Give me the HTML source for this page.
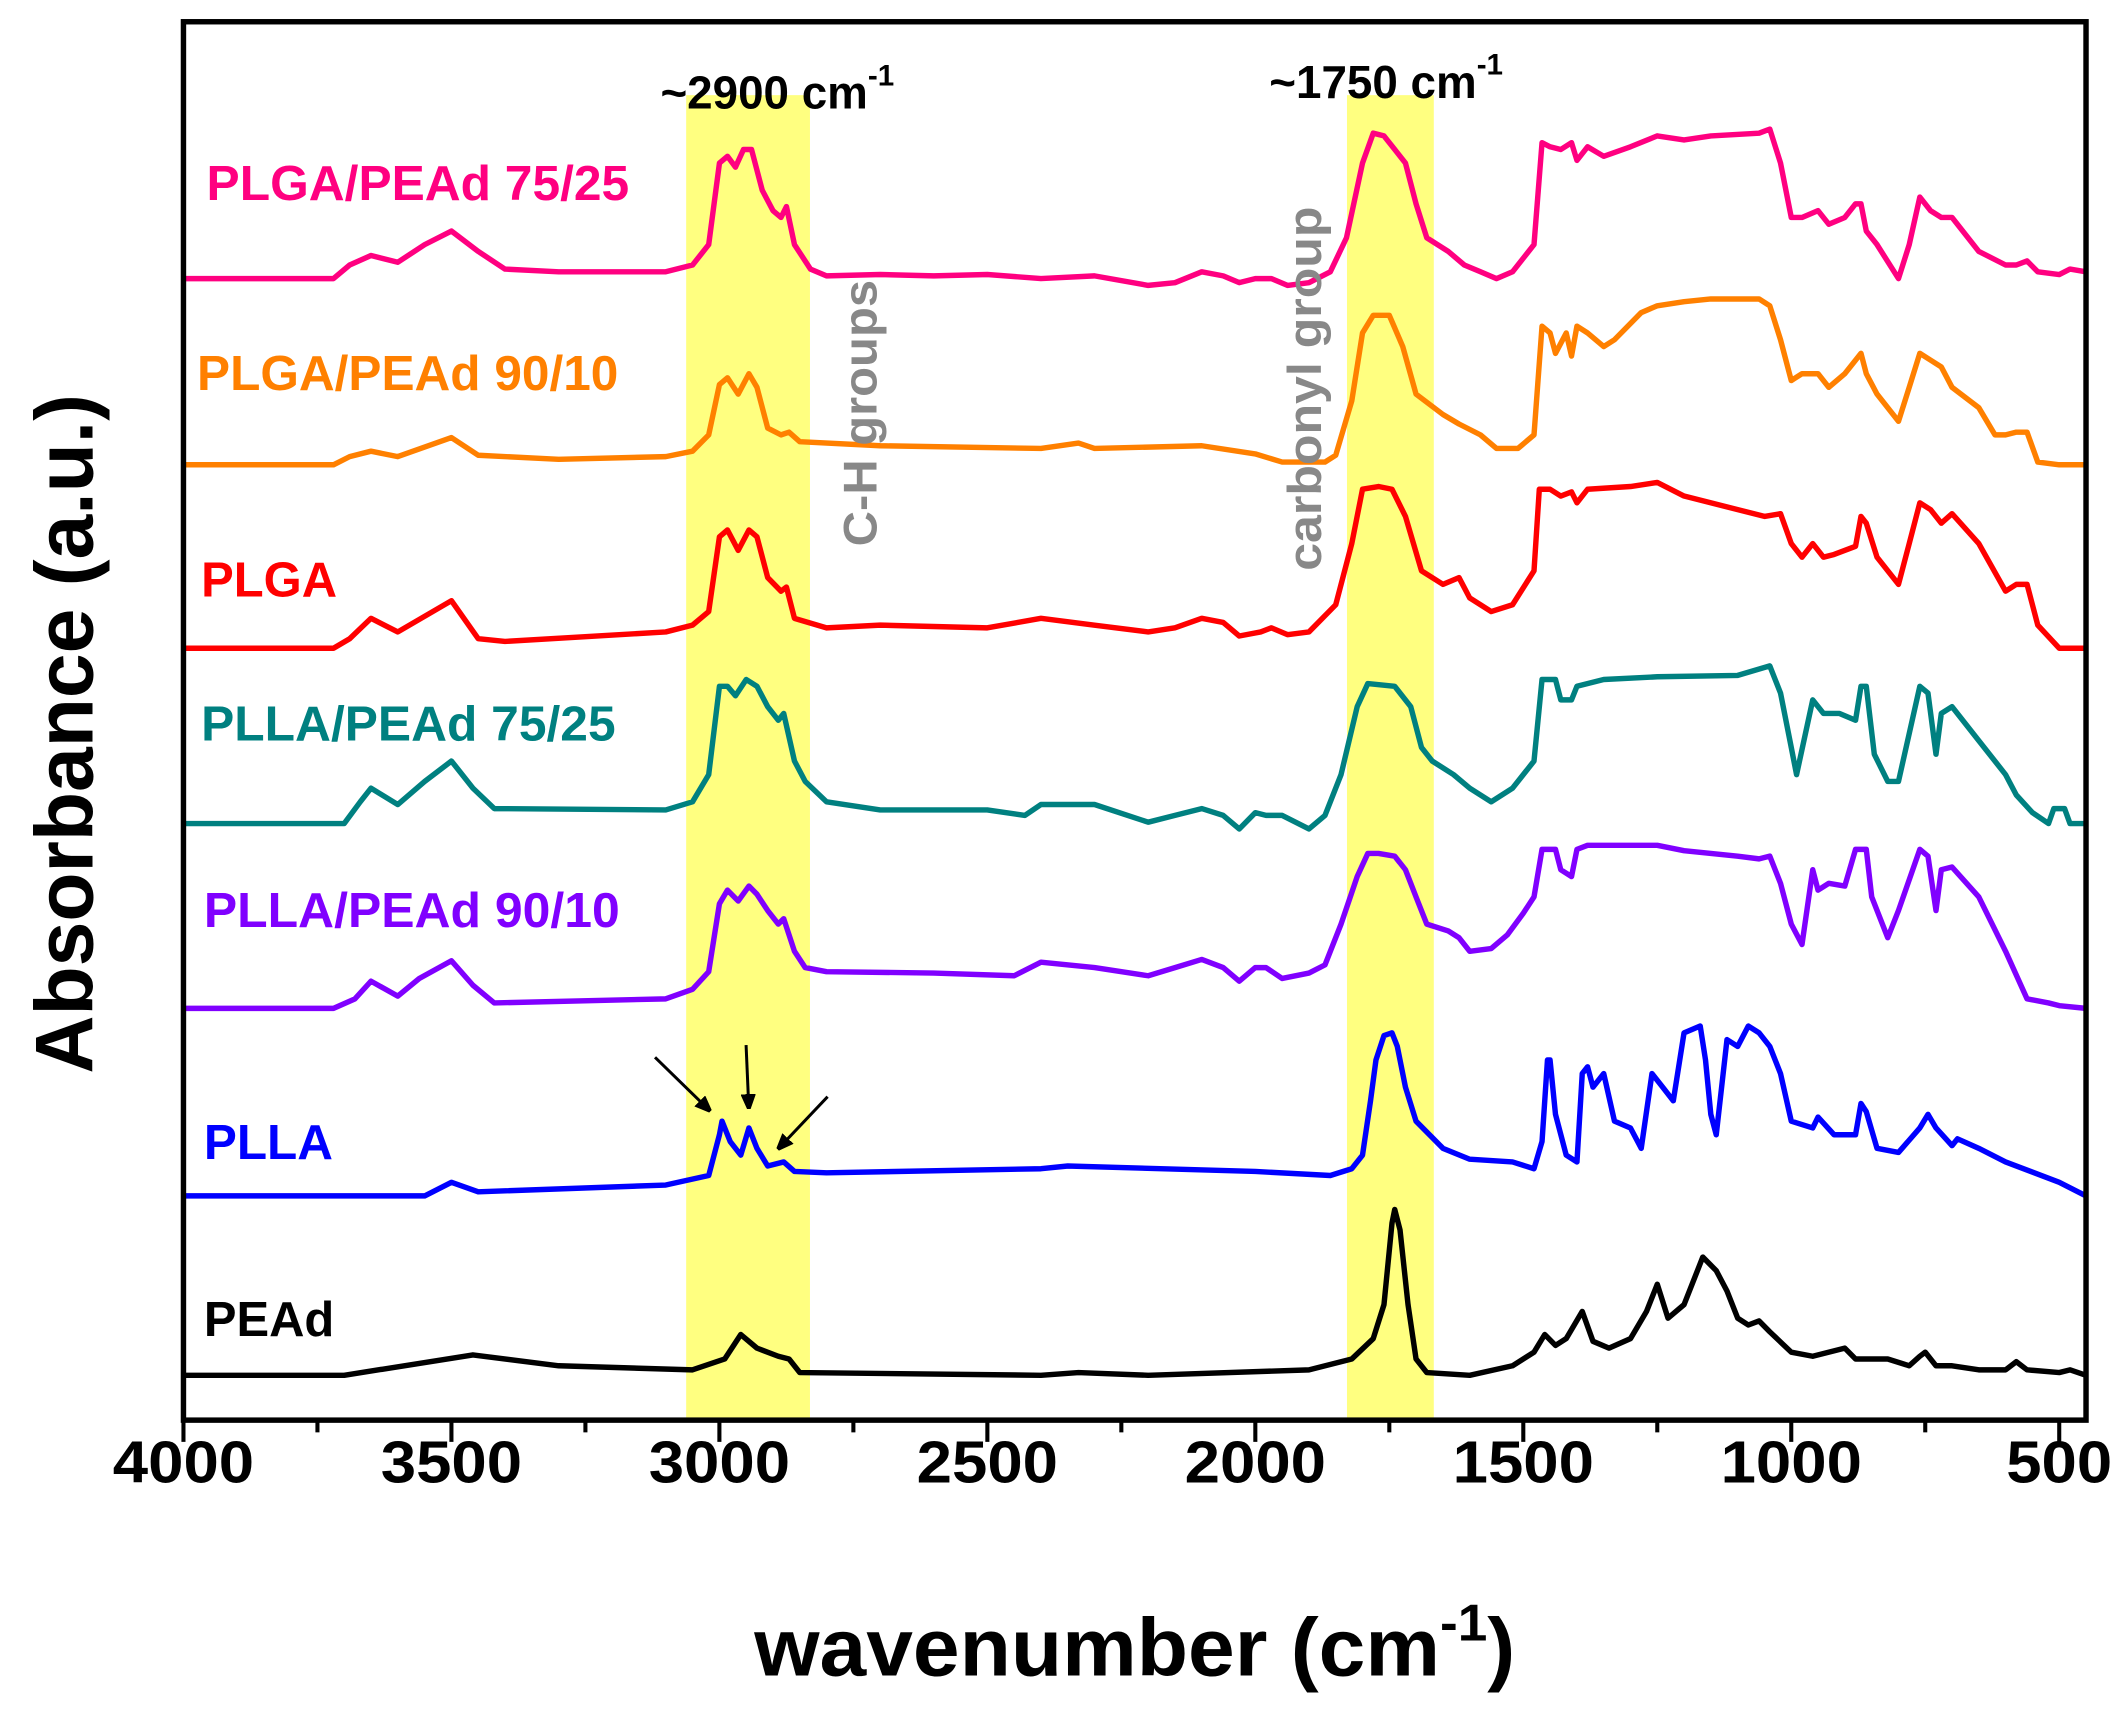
<!DOCTYPE html>
<html><head><meta charset="utf-8"><style>
html,body{margin:0;padding:0;background:#fff;}
svg{display:block;font-family:"Liberation Sans",Arial,sans-serif;}
</style></head><body>
<svg id="chart" width="2120" height="1713" viewBox="0 0 1560 1260.5" xmlns="http://www.w3.org/2000/svg">
<g id="bands"></g>
<g id="series"></g>
<g id="axes"></g>
<g id="labels"></g>
<text x="486" y="80" font-size="34" font-weight="bold" textLength="172" lengthAdjust="spacingAndGlyphs">~2900 cm<tspan dy="-17" font-size="22">-1</tspan></text>
<text x="934" y="72" font-size="34" font-weight="bold" textLength="172" lengthAdjust="spacingAndGlyphs">~1750 cm<tspan dy="-17" font-size="22">-1</tspan></text>
<text transform="translate(645,402) rotate(-90)" font-size="35" font-weight="bold" fill="#888" textLength="196" lengthAdjust="spacingAndGlyphs">C-H groups</text>
<text transform="translate(972,420) rotate(-90)" font-size="35" font-weight="bold" fill="#888" textLength="268" lengthAdjust="spacingAndGlyphs">carbonyl group</text>
<text transform="translate(68,540) rotate(-90)" text-anchor="middle" font-size="60" font-weight="bold" textLength="500" lengthAdjust="spacingAndGlyphs">Absorbance (a.u.)</text>
<text x="555" y="1233" font-size="60" font-weight="bold" textLength="560" lengthAdjust="spacingAndGlyphs">wavenumber (cm<tspan dy="-26" font-size="38">-1</tspan><tspan dy="26">)</tspan></text>
<g stroke="#000" stroke-width="2.2" fill="#000">
<defs><marker id="ah" viewBox="0 0 10 10" refX="9" refY="5" markerWidth="5" markerHeight="5" orient="auto"><path d="M0,1 L10,5 L0,9 z"/></marker></defs>
<line x1="482" y1="778" x2="522" y2="817" marker-end="url(#ah)"/>
<line x1="549" y1="769" x2="551" y2="815" marker-end="url(#ah)"/>
<line x1="609" y1="807" x2="573" y2="845" marker-end="url(#ah)"/>
</g>
</svg>
<script>
const xTicks = [4000,3500,3000,2500,2000,1500,1000,500];
const minorTicks = [3750,3250,2750,2250,1750,1250,750];
const bandRanges = [[3062,2831],[1829,1667]];
const pead = [[4000,33],[3700,33],[3460,48],[3300,40],[3050,37],[2990,45],[2960,63],[2930,53],[2890,47],[2870,45],[2850,35],[2400,33],[2330,35],[2200,33],[1900,37],[1820,45],[1780,60],[1760,85],[1745,145],[1740,155],[1730,140],[1715,85],[1700,45],[1680,35],[1600,33],[1520,40],[1480,50],[1460,63],[1440,55],[1420,60],[1390,80],[1370,58],[1340,53],[1300,60],[1270,80],[1250,100],[1230,75],[1200,85],[1165,120],[1140,110],[1120,95],[1100,75],[1080,70],[1060,73],[1040,65],[1000,50],[960,47],[900,53],[880,45],[820,45],[780,40],[760,47],[750,50],[730,40],[700,40],[650,37],[600,37],[580,43],[560,37],[500,35],[480,37],[450,33]];
const plla = [[4000,165],[3550,165],[3500,175],[3450,168],[3100,173],[3020,180],[3000,210],[2995,220],[2980,205],[2960,195],[2945,215],[2930,200],[2910,187],[2880,190],[2860,183],[2800,182],[2400,185],[2350,187],[2000,183],[1860,180],[1820,185],[1800,195],[1785,235],[1775,265],[1760,283],[1745,285],[1735,275],[1720,245],[1700,220],[1650,200],[1600,192],[1520,190],[1480,185],[1465,205],[1455,265],[1450,265],[1440,225],[1420,195],[1400,190],[1390,255],[1380,260],[1370,245],[1350,255],[1330,220],[1300,215],[1280,200],[1260,255],[1240,245],[1220,235],[1200,285],[1170,290],[1160,265],[1150,225],[1140,210],[1120,280],[1100,275],[1080,290],[1060,285],[1040,275],[1020,255],[1000,220],[960,215],[950,223],[920,210],[880,210],[870,233],[860,227],[840,200],[800,197],[760,215],[745,225],[730,215],[700,202],[690,207],[650,200],[600,190],[500,175],[450,165]];
const plla9010 = [[4000,303],[3720,303],[3680,310],[3650,323],[3600,312],[3560,325],[3500,338],[3460,320],[3420,307],[3100,310],[3050,317],[3020,330],[3000,380],[2985,390],[2965,382],[2945,393],[2930,387],[2910,375],[2890,365],[2880,369],[2860,345],[2840,333],[2800,330],[2600,329],[2450,327],[2400,337],[2300,333],[2200,327],[2150,333],[2100,339],[2060,333],[2030,323],[2000,333],[1980,333],[1950,325],[1900,329],[1870,335],[1840,365],[1810,400],[1790,417],[1770,417],[1740,415],[1720,405],[1700,385],[1680,365],[1640,360],[1620,355],[1600,345],[1560,347],[1530,357],[1500,373],[1480,385],[1465,420],[1440,420],[1430,405],[1410,400],[1400,420],[1380,423],[1300,423],[1250,423],[1200,419],[1100,415],[1060,413],[1040,415],[1020,395],[1000,365],[980,350],[960,405],[950,390],[930,395],[900,393],[880,420],[860,420],[850,385],[820,355],[800,375],[760,420],[745,415],[730,375],[720,405],[700,407],[650,385],[600,345],[560,310],[520,307],[500,305],[450,303]];
const plla7525 = [[4000,439],[3700,439],[3670,455],[3650,465],[3600,453],[3550,470],[3500,485],[3460,465],[3420,450],[3100,449],[3050,455],[3020,475],[3000,540],[2985,540],[2970,533],[2950,545],[2930,540],[2910,525],[2890,515],[2880,520],[2860,485],[2840,470],[2800,455],[2700,449],[2500,449],[2430,445],[2400,453],[2300,453],[2200,440],[2150,445],[2100,450],[2060,445],[2030,435],[2000,447],[1980,445],[1950,445],[1900,435],[1870,445],[1840,475],[1810,525],[1790,542],[1740,540],[1710,525],[1690,495],[1670,485],[1630,475],[1600,465],[1560,455],[1520,465],[1480,485],[1465,545],[1440,545],[1430,530],[1410,530],[1400,540],[1350,545],[1250,547],[1100,548],[1040,555],[1020,535],[1000,495],[990,475],[960,530],[940,520],[910,520],[880,515],[870,540],[860,540],[845,490],[820,470],[800,470],[760,540],[745,535],[730,490],[720,520],[700,525],[650,500],[600,475],[580,460],[550,447],[520,439],[510,450],[490,450],[480,439],[450,439]];
const plga = [[4000,568],[3720,568],[3690,575],[3650,590],[3600,580],[3500,603],[3450,575],[3400,573],[3100,580],[3050,585],[3020,595],[3000,650],[2985,655],[2965,640],[2945,655],[2930,650],[2910,620],[2885,610],[2875,613],[2860,590],[2800,583],[2700,585],[2500,583],[2400,590],[2300,585],[2200,580],[2150,583],[2100,590],[2060,587],[2030,577],[1990,580],[1970,583],[1940,578],[1900,580],[1850,600],[1820,645],[1800,685],[1770,687],[1745,685],[1720,665],[1690,625],[1650,615],[1620,620],[1600,605],[1560,595],[1520,600],[1480,625],[1470,685],[1450,685],[1430,680],[1410,683],[1400,675],[1380,685],[1300,687],[1250,690],[1200,680],[1100,670],[1050,665],[1020,667],[1000,645],[980,635],[960,645],[940,635],[920,637],[880,643],[870,665],[860,660],[840,635],[800,615],[780,645],[760,675],[740,670],[720,660],[700,667],[650,645],[600,610],[580,615],[560,615],[540,585],[500,568],[450,568]];
const plga9010 = [[4000,703],[3720,703],[3690,709],[3650,713],[3600,709],[3500,723],[3450,710],[3300,707],[3100,709],[3050,713],[3020,725],[3000,762],[2985,767],[2965,755],[2945,770],[2930,760],[2910,730],[2885,725],[2870,727],[2850,720],[2700,717],[2400,715],[2330,719],[2300,715],[2100,717],[2000,711],[1950,705],[1870,705],[1850,710],[1820,750],[1800,800],[1780,813],[1750,813],[1725,790],[1700,755],[1650,740],[1620,733],[1580,725],[1550,715],[1510,715],[1480,725],[1465,805],[1450,800],[1440,785],[1420,800],[1410,783],[1400,805],[1380,800],[1350,790],[1330,795],[1280,815],[1250,820],[1200,823],[1150,825],[1060,825],[1040,820],[1020,795],[1000,765],[980,770],[950,770],[930,760],[900,770],[880,780],[870,785],[860,770],[840,755],[800,735],[780,760],[760,785],[740,780],[720,775],[700,760],[650,745],[620,725],[600,725],[580,727],[560,727],[540,705],[500,703],[450,703]];
const plga7525 = [[4000,840],[3720,840],[3690,850],[3650,857],[3600,852],[3550,865],[3500,875],[3450,860],[3400,847],[3300,845],[3100,845],[3050,850],[3020,865],[3000,925],[2985,930],[2970,922],[2955,935],[2940,935],[2920,905],[2900,890],[2885,885],[2875,893],[2860,865],[2830,847],[2800,842],[2700,843],[2600,842],[2500,843],[2400,840],[2300,842],[2200,835],[2150,837],[2100,845],[2060,842],[2030,837],[2000,840],[1970,840],[1940,835],[1900,837],[1860,845],[1830,870],[1800,925],[1780,947],[1760,945],[1740,935],[1720,925],[1700,895],[1680,870],[1640,860],[1610,850],[1580,845],[1550,840],[1520,845],[1480,865],[1465,940],[1450,937],[1430,935],[1410,940],[1400,927],[1380,937],[1350,930],[1300,937],[1250,945],[1200,942],[1150,945],[1060,947],[1040,950],[1020,925],[1000,885],[980,885],[950,890],[930,880],[900,885],[880,895],[870,895],[860,875],[840,865],[800,840],[780,865],[760,900],[740,890],[720,885],[700,885],[650,860],[600,850],[580,850],[560,853],[540,845],[500,843],[480,847],[450,845]];
const seriesNames = ["PEAd","PLLA","PLLA/PEAd 90/10","PLLA/PEAd 75/25","PLGA","PLGA/PEAd 90/10","PLGA/PEAd 75/25"];
const seriesData = [pead,plla,plla9010,plla7525,plga,plga9010,plga7525];
const seriesColors = ["#000000","#0000ff","#8000ff","#008080","#ff0000","#ff8000","#ff0080"];
const labelPos = [[150,983],[150,853],[150,682],[148,545],[148,439],[145,287],[152,147]];
const labelWidths = [96,95,306,305,100,310,311];

const NS="http://www.w3.org/2000/svg";
const L=135,R=1535,T=16,B=1045;
const xS = w => L + (4000 - w) * (R - L) / 3550;
const yS = v => B - v;
function mk(tag, attrs, parent){const e=document.createElementNS(NS,tag);for(const k in attrs)e.setAttribute(k,attrs[k]);parent.appendChild(e);return e;}

const bands=document.getElementById('bands');
bandRanges.forEach((b,i)=>{
  const r=mk('rect',{x:xS(b[0]),y:70,width:xS(b[1])-xS(b[0]),height:B-70,fill:'#ffff80'},bands);
  
  
});
const sg=document.getElementById('series');
seriesData.forEach((d,i)=>{
  const p=mk('path',{d:d.map((pt,j)=>(j?'L':'M')+xS(pt[0]).toFixed(1)+','+yS(pt[1]).toFixed(1)).join(''),fill:'none',stroke:seriesColors[i],'stroke-width':4,'stroke-linejoin':'round'},sg);
  
  
});
const lg=document.getElementById('labels');
seriesNames.forEach((n,i)=>{
  const t=mk('text',{x:labelPos[i][0],y:labelPos[i][1],fill:seriesColors[i],'font-size':36,'font-weight':'bold',textLength:labelWidths[i],lengthAdjust:'spacingAndGlyphs'},lg);
  t.textContent=n;
  
  
});
const ax=document.getElementById('axes');
const fr=mk('rect',{x:L,y:T,width:R-L,height:B-T,fill:'none',stroke:'#000','stroke-width':4},ax);


xTicks.forEach(w=>{
  const ln=mk('line',{x1:xS(w),x2:xS(w),y1:B,y2:B+16,stroke:'#000','stroke-width':3},ax);
  
  
  const t=mk('text',{x:xS(w),y:1091,'text-anchor':'middle','font-size':44,'font-weight':'bold',textLength:104,lengthAdjust:'spacingAndGlyphs'},ax);
  t.textContent=w;
  if(w===500){t.setAttribute('textLength',78);}
  
  
});
minorTicks.forEach(w=>{
  const ln=mk('line',{x1:xS(w),x2:xS(w),y1:B,y2:B+9,stroke:'#000','stroke-width':3},ax);
  
  
});
</script>
</body></html>
